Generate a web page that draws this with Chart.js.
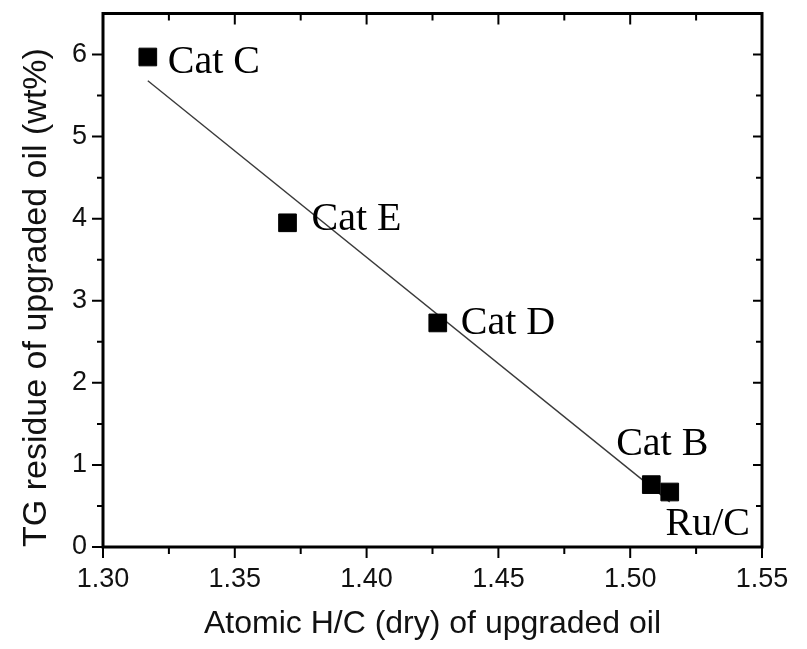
<!DOCTYPE html>
<html lang="en">
<head>
  <meta charset="UTF-8">
  <title>TG residue vs atomic H/C</title>
  <script src="https://cdn.jsdelivr.net/npm/chart.js"></script>
  <style>
    html, body { margin: 0; padding: 0; background: #fff; }
    #wrap { width: 807px; height: 649px; }
  </style>
</head>
<body>
  <div id="wrap"><canvas id="tgChart" width="807" height="649"></canvas></div>

  <script>
    // catalyst samples
    const catalysts = ['Cat C', 'Cat E', 'Cat D', 'Cat B', 'Ru/C'];
    const hcRatio = [1.317, 1.370, 1.427, 1.508, 1.515];
    const tgResidue = [5.97, 3.95, 2.73, 0.76, 0.67];

    // linear fit line endpoints
    const fitX = [1.317, 1.515];
    const fitY = [5.68, 0.55];

    const xTicks = [1.30, 1.35, 1.40, 1.45, 1.50, 1.55];
    const yTicks = [0, 1, 2, 3, 4, 5, 6];

    const sansFont = "'Liberation Sans', Arial, sans-serif";
    const serifFont = "'Liberation Serif', 'Times New Roman', serif";

    // label offsets relative to each marker (px)
    const labelPos = {
      'Cat C': { dx: 20, dy: 5, align: 'left' },
      'Cat E': { dx: 24, dy: -3, align: 'left' },
      'Cat D': { dx: 23, dy: 1, align: 'left' },
      'Cat B': { dx: 11, dy: -40, align: 'center' },
      'Ru/C': { dx: 38, dy: 32, align: 'center' }
    };

    // frame + inward/outward tick marks drawn from the chart's scales
    const framePlugin = {
      id: 'frame',
      afterDraw(chart) {
        const { ctx, chartArea: a, scales } = chart;
        const xs = scales.x, ys = scales.y;
        ctx.save();
        ctx.strokeStyle = '#000';
        ctx.lineCap = 'butt';

        ctx.lineWidth = 2;
        const xMarks = [];
        for (let i = 0; i < xTicks.length; i++) {
          xMarks.push({ v: xTicks[i], major: true });
          if (i < xTicks.length - 1) xMarks.push({ v: (xTicks[i] + xTicks[i + 1]) / 2, major: false });
        }
        xMarks.forEach(m => {
          const px = xs.getPixelForValue(m.v);
          ctx.beginPath();
          ctx.moveTo(px, a.bottom);
          ctx.lineTo(px, a.bottom + (m.major ? 11 : 7));
          ctx.moveTo(px, a.top);
          ctx.lineTo(px, a.top + (m.major ? 11 : 7));
          ctx.stroke();
        });

        const yMarks = [];
        for (let i = 0; i < yTicks.length; i++) {
          yMarks.push({ v: yTicks[i], major: true });
          if (i < yTicks.length - 1) yMarks.push({ v: (yTicks[i] + yTicks[i + 1]) / 2, major: false });
        }
        yMarks.forEach(m => {
          const py = ys.getPixelForValue(m.v);
          ctx.beginPath();
          ctx.moveTo(a.left, py);
          ctx.lineTo(a.left - (m.major ? 11 : 6), py);
          ctx.moveTo(a.right, py);
          ctx.lineTo(a.right - (m.major ? 9 : 6), py);
          ctx.stroke();
        });

        ctx.lineWidth = 3;
        ctx.strokeRect(a.left, a.top, a.right - a.left, a.bottom - a.top);

        // point labels
        const meta = chart.getDatasetMeta(0);
        ctx.fillStyle = '#000';
        ctx.font = '40px ' + serifFont;
        ctx.textBaseline = 'middle';
        meta.data.forEach((pt, i) => {
          const name = catalysts[i];
          const p = labelPos[name];
          ctx.textAlign = p.align;
          ctx.fillText(name, pt.x + p.dx, pt.y + p.dy);
        });
        ctx.restore();
      }
    };

    const ctx = document.getElementById('tgChart').getContext('2d');
    new Chart(ctx, {
      type: 'scatter',
      data: {
        datasets: [
          {
            label: 'Samples',
            data: hcRatio.map((x, i) => ({ x, y: tgResidue[i] })),
            pointStyle: 'rect',
            pointRadius: 12.5,
            pointBackgroundColor: '#000',
            pointBorderColor: '#000',
            pointBorderWidth: 1,
            showLine: false
          },
          {
            label: 'Fit',
            data: fitX.map((x, i) => ({ x, y: fitY[i] })),
            showLine: true,
            borderColor: '#3a3a3a',
            borderWidth: 1.4,
            pointRadius: 0
          }
        ]
      },
      options: {
        responsive: false,
        animation: false,
        layout: { padding: { top: 10, right: 45, left: 0, bottom: 0 } },
        plugins: { legend: { display: false }, tooltip: { enabled: false } },
        scales: {
          x: {
            type: 'linear',
            min: 1.30,
            max: 1.55,
            afterBuildTicks: s => { s.ticks = xTicks.map(v => ({ value: v })); },
            afterFit: s => { s.height = 102; s.paddingLeft = 0; s.paddingRight = 0; },
            grid: { display: false, drawTicks: false },
            border: { display: false },
            ticks: {
              padding: 16,
              color: '#111',
              font: { family: sansFont, size: 27 },
              callback: v => v.toFixed(2)
            },
            title: {
              display: true,
              text: 'Atomic H/C (dry) of upgraded oil',
              color: '#111',
              font: { family: sansFont, size: 32 },
              padding: { top: 0, bottom: 6 }
            }
          },
          y: {
            type: 'linear',
            min: 0,
            max: 6.5,
            afterBuildTicks: s => { s.ticks = yTicks.map(v => ({ value: v })); },
            afterFit: s => { s.width = 103; s.paddingTop = 0; s.paddingBottom = 0; },
            grid: { display: false, drawTicks: false },
            border: { display: false },
            ticks: {
              padding: 16,
              color: '#111',
              font: { family: sansFont, size: 27 }
            },
            title: {
              display: true,
              text: 'TG residue of upgraded oil (wt%)',
              align: 'start',
              color: '#111',
              font: { family: sansFont, size: 34 },
              padding: { top: 16, bottom: 0 }
            }
          }
        }
      },
      plugins: [framePlugin]
    });
  </script>
</body>
</html>
